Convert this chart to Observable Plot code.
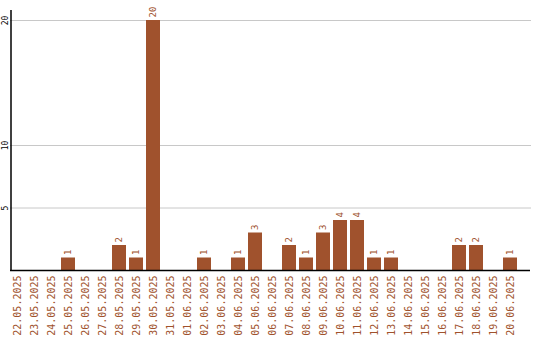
<!DOCTYPE html>
<html>
<head>
<meta charset="utf-8">
<script src="https://cdn.jsdelivr.net/npm/d3@7"></script>
<script src="https://cdn.jsdelivr.net/npm/@observablehq/plot@0.6"></script>
<style>
  html, body { margin: 0; padding: 0; background: #fff; }
</style>
</head>
<body>
<div id="chart"></div>
<script>
const dates = ["22.05.2025","23.05.2025","24.05.2025","25.05.2025","26.05.2025","27.05.2025","28.05.2025","29.05.2025","30.05.2025","31.05.2025","01.06.2025","02.06.2025","03.06.2025","04.06.2025","05.06.2025","06.06.2025","07.06.2025","08.06.2025","09.06.2025","10.06.2025","11.06.2025","12.06.2025","13.06.2025","14.06.2025","15.06.2025","16.06.2025","17.06.2025","18.06.2025","19.06.2025","20.06.2025"];
const counts = [0,0,0,1,0,0,2,1,20,0,0,1,0,1,3,0,2,1,3,4,4,1,1,0,0,0,2,2,0,1];
const yTicks = [5, 10, 20];

const data = dates.map((d, i) => ({date: d, count: counts[i]}));
const brown = "#a0522d";
const mono = "DejaVu Sans Mono";

const chart = Plot.plot({
  width: 540,
  height: 340,
  marginLeft: 10,
  marginRight: 23,
  marginTop: 10,
  marginBottom: 70,
  style: {background: "#fff", fontFamily: mono},
  x: {type: "band", domain: dates, paddingInner: 3/17, paddingOuter: 0, axis: null},
  y: {domain: [0, 20.8], axis: null},
  marks: [
    Plot.ruleY(yTicks, {stroke: "#c8c8c8", insetRight: -14, strokeWidth: 1}),
    Plot.barY(data, {x: "date", y: "count", fill: brown}),
    Plot.text(data.filter(d => d.count > 0), {
      x: "date", y: "count", text: d => String(d.count),
      rotate: -90, textAnchor: "start", lineAnchor: "middle",
      dy: -3, fill: brown, fontSize: 9, fontFamily: mono
    }),
    Plot.ruleY([0], {stroke: "#000", insetRight: -13, strokeWidth: 1.5}),
    Plot.ruleX([dates[0]], {x: d => d, y1: 0, y2: 20.8, dx: -6.5, stroke: "#000", strokeWidth: 1.5}),
    Plot.text(yTicks, {
      y: d => d, text: d => String(d), frameAnchor: "left",
      rotate: -90, textAnchor: "middle", lineAnchor: "middle",
      dx: -5, fill: "#000", fontSize: 8, fontFamily: mono
    }),
    Plot.axisX({
      tickSize: 0, tickPadding: 5, tickRotate: -90,
      fontSize: 10, fontFamily: mono, color: brown, fill: brown, label: null
    })
  ]
});
document.getElementById("chart").appendChild(chart);
</script>
</body>
</html>
